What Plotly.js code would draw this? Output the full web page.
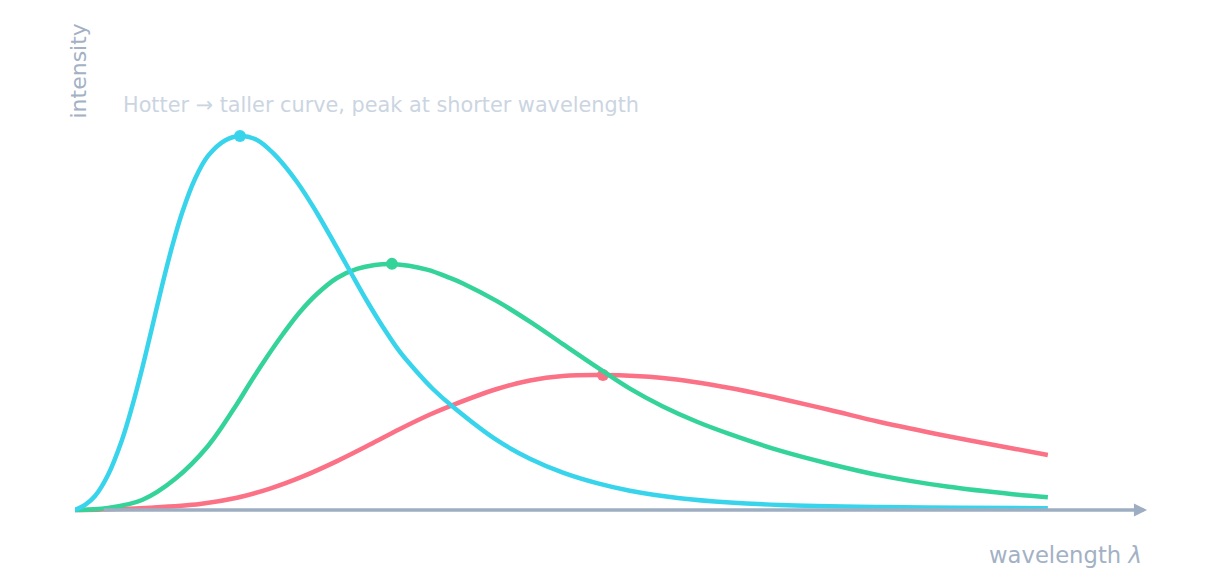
<!DOCTYPE html>
<html>
<head>
<meta charset="utf-8">
<script src="https://cdn.plot.ly/plotly-3.0.1.min.js"></script>
<style>
  html, body { margin: 0; padding: 0; background: #ffffff; }
  #chart { width: 1206px; height: 588px; }
</style>
</head>
<body>
<div id="chart"></div>
<script>
// wavelength (arbitrary units) and intensity
var coolX = [0, 0.288, 0.771, 1.285, 1.665, 2.004, 2.343, 2.693, 3.032, 3.340, 3.649, 3.875, 4.337, 4.676, 5.015, 5.427, 6.043, 6.732, 7.246, 7.760, 8.273, 8.962, 9.640, 10]
var coolY = [0, 0.0013, 0.0061, 0.0160, 0.0326, 0.0572, 0.0898, 0.1307, 0.1749, 0.2166, 0.2553, 0.2799, 0.3235, 0.3463, 0.3583, 0.3610, 0.3529, 0.3262, 0.2981, 0.2674, 0.2353, 0.1979, 0.1644, 0.1471]

var warmX = [0, 0.339, 0.689, 1.028, 1.367, 1.665, 1.799, 1.973, 2.138, 2.312, 2.487, 2.693, 2.898, 3.083, 3.258, 3.618, 3.854, 3.988, 4.337, 4.676, 5.015, 5.365, 5.704, 6.043, 6.393, 6.732, 7.246, 7.760, 8.273, 8.962, 9.640, 10]
var warmY = [0, 0.0053, 0.0267, 0.0829, 0.1711, 0.2834, 0.3396, 0.4091, 0.4706, 0.5294, 0.5775, 0.6203, 0.6444, 0.6551, 0.6578, 0.6428, 0.6206, 0.6056, 0.5583, 0.5035, 0.4436, 0.3818, 0.3243, 0.2767, 0.2358, 0.2027, 0.1586, 0.1230, 0.0925, 0.0626, 0.0422, 0.0342]

var hotX = [0, 0.103, 0.206, 0.339, 0.483, 0.586, 0.689, 0.791, 0.894, 0.997, 1.100, 1.233, 1.367, 1.542, 1.696, 1.871, 2.035, 2.282, 2.487, 2.693, 2.826, 3.001, 3.165, 3.340, 3.515, 3.679, 3.875, 4.337, 4.676, 5.015, 5.365, 5.704, 6.218, 6.732, 7.246, 8.273, 9.096, 10]
var hotY = [0, 0.0134, 0.0374, 0.0936, 0.1872, 0.2754, 0.3770, 0.4866, 0.5989, 0.7032, 0.7941, 0.8850, 0.9465, 0.9880, 1.000, 0.9893, 0.9545, 0.8770, 0.7941, 0.7005, 0.6390, 0.5588, 0.4893, 0.4225, 0.3690, 0.3235, 0.2781, 0.1866, 0.1372, 0.1000, 0.0719, 0.0516, 0.0316, 0.0201, 0.0134, 0.0080, 0.0059, 0.0048]

// peak of each curve
var peakX = [5.427, 3.258, 1.696]
var peakY = [0.361, 0.658, 1.000]

var colors = ['#fb7185', '#34d399', '#38d4ec']

var curves = [[coolX, coolY], [warmX, warmY], [hotX, hotY]]
var data = []
for (var i = 0; i < curves.length; i++) {
    data.push({
        x: curves[i][0],
        y: curves[i][1],
        mode: 'lines',
        line: { color: colors[i], width: 4.5, shape: 'spline', smoothing: 1, simplify: false },
        hoverinfo: 'skip'
    })
    data.push({
        x: [peakX[i]],
        y: [peakY[i]],
        mode: 'markers',
        marker: { color: colors[i], size: 12 },
        hoverinfo: 'skip'
    })
}

var layout = {
    width: 1206,
    height: 588,
    margin: { l: 75, r: 56, t: 20, b: 58, pad: 0 },
    paper_bgcolor: '#ffffff',
    plot_bgcolor: '#ffffff',
    font: { family: 'DejaVu Sans, sans-serif', color: '#94a3b8' },
    showlegend: false,
    xaxis: {
        range: [0, 11.05],
        showgrid: false,
        zeroline: false,
        showline: false,
        showticklabels: false,
        ticks: '',
        fixedrange: true
    },
    yaxis: {
        range: [-0.0535, 1.310],
        showgrid: false,
        zeroline: false,
        showline: false,
        showticklabels: false,
        ticks: '',
        fixedrange: true
    },
    annotations: [
        {
            // x axis with arrow
            x: 11.02, y: 0, xref: 'x', yref: 'y',
            ax: 0.28, ay: 0, axref: 'x', ayref: 'y',
            showarrow: true, arrowhead: 2, arrowsize: 0.75, arrowwidth: 3.5,
            arrowcolor: '#9eaec2', text: ''
        },
        {
            text: 'intensity',
            xref: 'paper', yref: 'paper', x: 0.0028, y: 0.899,
            xanchor: 'center', yanchor: 'middle', textangle: -90,
            showarrow: false,
            font: { size: 22, color: '#a3b1c4' }
        },
        {
            text: 'Hotter → taller curve, peak at shorter wavelength',
            xref: 'paper', yref: 'paper', x: 0.043, y: 0.833,
            xanchor: 'left', yanchor: 'middle',
            showarrow: false,
            font: { size: 20.8, color: '#cbd5e1' }
        },
        {
            text: 'wavelength <i>λ</i>',
            xref: 'paper', yref: 'paper', x: 0.9945, y: -0.049,
            xanchor: 'right', yanchor: 'middle',
            showarrow: false,
            font: { size: 22.7, color: '#a3b1c4' }
        }
    ]
}

var config = { responsive: false, displayModeBar: false, staticPlot: true }

Plotly.newPlot('chart', data, layout, config)
</script>
</body>
</html>
